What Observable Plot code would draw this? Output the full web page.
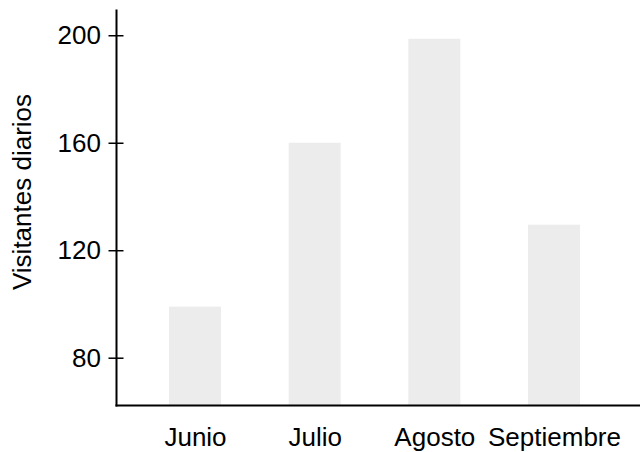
<!DOCTYPE html>
<html>
<head>
<meta charset="utf-8">
<script src="https://cdn.jsdelivr.net/npm/d3@7"></script>
<script src="https://cdn.jsdelivr.net/npm/@observablehq/plot@0.6"></script>
<style>
  html, body { margin: 0; padding: 0; background: #fff; }
</style>
</head>
<body>
<div id="chart"></div>
<script>
const meses = ["Junio", "Julio", "Agosto", "Septiembre"];
const visitantes = [99, 160, 198.7, 129.5];
const yTicks = [80, 120, 160, 200];
const yDomain = [62.4, 209.4];
const yTitulo = ["Visitantes diarios"];

const data = meses.map((m, i) => ({mes: m, v: visitantes[i]}));

const chart = Plot.plot({
  width: 640,
  height: 452,
  marginLeft: 116,
  marginRight: 0,
  marginTop: 10,
  marginBottom: 47,
  style: {fontFamily: "'Liberation Sans', Arial, sans-serif", fontSize: "26px", color: "#000", background: "#fff"},
  x: {domain: meses, range: [116, 633], paddingInner: 0.5655, paddingOuter: 0.4429, round: false, label: null},
  y: {domain: yDomain, label: null},
  marks: [
    Plot.barY(data, {x: "mes", y: "v", fill: "#ebeceb", clip: true}),
    Plot.frame({anchor: "left", stroke: "#000", strokeWidth: 2}),
    Plot.frame({anchor: "bottom", stroke: "#000", strokeWidth: 2}),
    Plot.axisY({ticks: yTicks, tickSize: 15, dx: 7.5, tickPadding: 8, strokeWidth: 1.5, label: null, fontSize: 26}),
    Plot.axisX({tickSize: 0, tickPadding: 22, label: null, fontSize: 26}),
    Plot.text(yTitulo, {text: d => d, frameAnchor: "left", textAnchor: "middle", rotate: -90, dx: -94, dy: -16, fontSize: 26})
  ]
});
document.getElementById("chart").appendChild(chart);
</script>
</body>
</html>
